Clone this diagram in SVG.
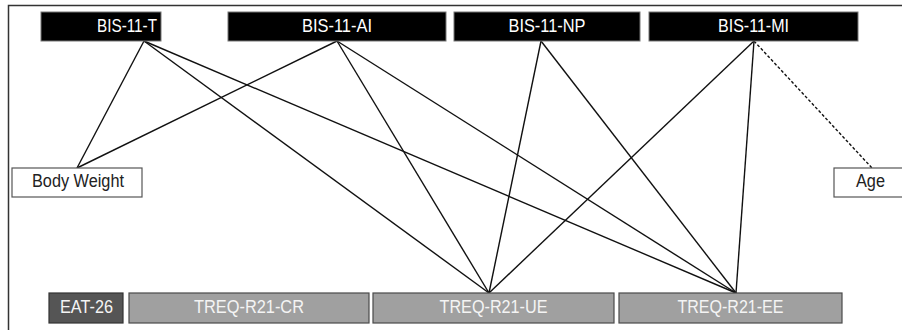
<svg xmlns="http://www.w3.org/2000/svg" width="902" height="330" viewBox="0 0 902 330">
<style>
text{font-family:"Liberation Sans",Arial,sans-serif;font-size:18px;text-anchor:middle}
.top rect{fill:#000;stroke:#777;stroke-width:1}
.top text{fill:#fff}
.mid rect{fill:#fff;stroke:#555;stroke-width:1.2}
.mid text{fill:#222}
.bot rect{fill:#a0a0a0;stroke:#4a4a4a;stroke-width:1.2}
.bot text{fill:#f4f4f4}
.dark rect{fill:#555;stroke:#333}
.edge{stroke:#111;stroke-width:1.4;fill:none}
.dash{stroke-dasharray:3,2}
</style>
<rect width="902" height="330" fill="#fff"/>
<path d="M8.5,330 V5.5 H902" fill="none" stroke="#333" stroke-width="1.5"/>
<g id="connectors">
<line class="edge" x1="144" y1="41" x2="77" y2="168"/>
<line class="edge" x1="144" y1="41" x2="489" y2="293"/>
<line class="edge" x1="144" y1="41" x2="736" y2="293"/>
<line class="edge" x1="337" y1="41" x2="77" y2="168"/>
<line class="edge" x1="337" y1="41" x2="489" y2="293"/>
<line class="edge" x1="337" y1="41" x2="736" y2="293"/>
<line class="edge" x1="541" y1="41" x2="489" y2="293"/>
<line class="edge" x1="541" y1="41" x2="736" y2="293"/>
<line class="edge" x1="754" y1="41" x2="489" y2="293"/>
<line class="edge" x1="754" y1="41" x2="736" y2="293"/>
<line class="edge dash" x1="754" y1="41" x2="872" y2="168"/>
</g>
<g id="bis-11-t" class="top"><rect x="41" y="12" width="120" height="29"/><text x="127" y="32" textLength="60" lengthAdjust="spacingAndGlyphs">BIS-11-T</text></g>
<g id="bis-11-ai" class="top"><rect x="228" y="12" width="218" height="29"/><text x="337" y="32" textLength="70" lengthAdjust="spacingAndGlyphs">BIS-11-AI</text></g>
<g id="bis-11-np" class="top"><rect x="454" y="12" width="186" height="29"/><text x="547" y="32" textLength="77" lengthAdjust="spacingAndGlyphs">BIS-11-NP</text></g>
<g id="bis-11-mi" class="top"><rect x="649" y="12" width="209" height="29"/><text x="753.5" y="32" textLength="71" lengthAdjust="spacingAndGlyphs">BIS-11-MI</text></g>
<g id="body-weight" class="mid"><rect x="12" y="168" width="130" height="29"/><text x="78" y="186.5" textLength="92" lengthAdjust="spacingAndGlyphs">Body Weight</text></g>
<g id="age" class="mid"><rect x="834" y="168" width="73" height="29"/><text x="870.5" y="186.5" textLength="29" lengthAdjust="spacingAndGlyphs">Age</text></g>
<g id="eat-26" class="bot dark"><rect x="49" y="293" width="74" height="30"/><text x="86.5" y="312.5" textLength="53" lengthAdjust="spacingAndGlyphs">EAT-26</text></g>
<g id="treq-r21-cr" class="bot"><rect x="129" y="293" width="240" height="30"/><text x="249" y="312.5" textLength="110" lengthAdjust="spacingAndGlyphs">TREQ-R21-CR</text></g>
<g id="treq-r21-ue" class="bot"><rect x="373" y="293" width="241" height="30"/><text x="493.5" y="312.5" textLength="108" lengthAdjust="spacingAndGlyphs">TREQ-R21-UE</text></g>
<g id="treq-r21-ee" class="bot"><rect x="619" y="293" width="223" height="30"/><text x="730.5" y="312.5" textLength="106" lengthAdjust="spacingAndGlyphs">TREQ-R21-EE</text></g>
</svg>
